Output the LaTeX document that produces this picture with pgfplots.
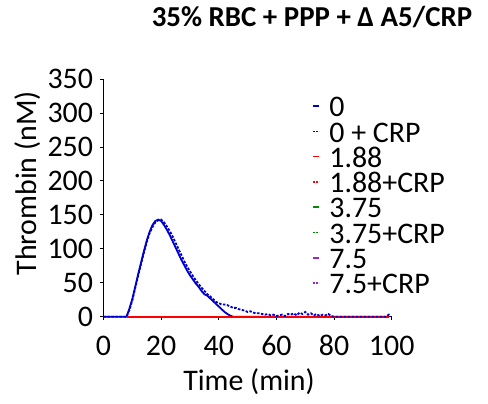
\documentclass[border=0pt]{standalone}
\usepackage{pgfplots}
\pgfplotsset{compat=1.18}
\usepackage{pgfplotstable}
\usepackage{fontspec}
\setmainfont{Carlito}
\definecolor{cblue}{RGB}{0,0,205}
\definecolor{cred}{RGB}{255,0,0}
\definecolor{cgreen}{RGB}{0,140,0}
\definecolor{cpurple}{RGB}{150,40,200}

\pgfplotstableread{
t y
0 0
2 0
4 0
6 0
8 0
9 12
10 26
11 44
12 62
13 79
14 96
15 112
16 125
17 135
18 141
19 143
20 141
21 135
22 128
23 120
24 111
25 102
26 93
27 84
28 76
29 68
30 61
31 55
32 49
33 44
34 38
35 33
36 31
37 27
38 23
39 19
40 15
41 11
42 7
43 4
44 1.5
45 0
50 0
60 0
70 0
80 0
90 0
99 0
}\zerosolid

\pgfplotstableread{
t y
0 0
2 0
4 0
6 0
8 0
9 10
10 24
11 42
12 60
13 77
14 94
15 110
16 123
17 132
18 139
19 142
20 143
21 139
22 133
23 126
24 118
25 109
26 100
27 91
28 82
29 74
30 67
31 60
32 54
33 48
34 43
35 38
36 33
37 30
38 26
39 22
40 20
41 18
42 18
43 17
44 15
45 13
46 13
47 11
48 10
49 9
50 7
51 8
52 6
53 5
54 5
55 4
56 3
57 4
58 2
59 3
60 1
61 2
62 3
63 1
64 4
65 3
66 5
67 2
68 6
69 4
70 7
71 3
72 5
73 2
74 4
75 1
76 3
77 2
78 4
79 1
80 0
85 0
90 0
95 0
98 0
99 3
99.5 0
}\zerocrp

\pgfplotstableread{
t y
8 0
20 0
40 0
60 0
80 0
99 0
}\flat

\begin{document}
\begin{tikzpicture}
\useasboundingbox (-103.5bp,-87.3bp) rectangle (384.5bp,316.7bp);
\begin{axis}[
  scale only axis,
  width=288.2bp, height=237.7bp,
  xmin=0, xmax=100, ymin=0, ymax=350,
  xtick={0,20,...,100}, ytick={0,50,...,350},
  axis lines=left,
  axis line style={-, line width=0.8bp, black},
  tick style={line width=0.8bp, black},
  tick align=outside,
  major tick length=3.5bp,
  clip=false,
  /pgf/number format/assume math mode=true,
  tick label style={font=\fontsize{30}{30}\selectfont},
  xticklabel style={anchor=base, inner sep=0pt, yshift=-35bp},
  yticklabel style={anchor=east, inner sep=0pt, xshift=-6.8bp},
  every axis x label/.style={at={(axis description cs:0.505,-0.3084)}, anchor=base, font=\fontsize{30}{30}\selectfont},
  every axis y label/.style={at={(axis description cs:-0.2318,0.561)}, anchor=base, rotate=90, font=\fontsize{30}{30}\selectfont},
  xlabel={Time (min)},
  ylabel={Thrombin (nM)},
  legend style={at={(axis description cs:0.7245,0.917)}, anchor=north west,
    draw=none, fill=none, inner sep=0pt, outer sep=0pt,
    font=\fontsize{30}{30}\selectfont,
    nodes={text height=18bp, text depth=7.3bp, inner sep=0pt},
    cells={anchor=base west},
    column sep=9.5bp, row sep=0pt},
  legend image code/.code={\draw[#1] (0bp,10.7bp) -- (6bp,10.7bp);},
]
% data, drawn in stacking order
\addplot[forget plot, cgreen, line width=1.8bp] table {\flat};
\addplot[forget plot, cgreen, line width=1.8bp, dash pattern=on 2.5bp off 1.5bp] table {\flat};
\addplot[forget plot, cpurple, line width=1.8bp] table {\flat};
\addplot[forget plot, cpurple, line width=1.8bp, dash pattern=on 2.5bp off 1.5bp] table {\flat};
\addplot[forget plot, cblue, line width=1.8bp] table {\zerosolid};
\addplot[forget plot, cred, line width=1.8bp] table {\flat};
\addplot[forget plot, cred, line width=1.8bp, dash pattern=on 2.5bp off 1.5bp] table {\flat};
\addplot[forget plot, cblue, line width=1.8bp, dash pattern=on 2.5bp off 1.5bp] table {\zerocrp};
% legend
\addlegendimage{cblue, line width=1.6bp}
\addlegendentry{0}
\addlegendimage{cblue, line width=1.6bp, dash pattern=on 1.5bp off 1.5bp}
\addlegendentry{0 + CRP}
\addlegendimage{cred, line width=1.6bp}
\addlegendentry{1.88}
\addlegendimage{cred, line width=1.6bp, dash pattern=on 1.5bp off 1.5bp}
\addlegendentry{1.88+CRP}
\addlegendimage{cgreen, line width=1.6bp}
\addlegendentry{3.75}
\addlegendimage{cgreen, line width=1.6bp, dash pattern=on 1.5bp off 1.5bp}
\addlegendentry{3.75+CRP}
\addlegendimage{cpurple, line width=1.6bp}
\addlegendentry{7.5}
\addlegendimage{cpurple, line width=1.6bp, dash pattern=on 1.5bp off 1.5bp}
\addlegendentry{7.5+CRP}
\end{axis}
\node[anchor=base, font=\fontsize{29}{29}\selectfont\bfseries] at (208.5bp,289.7bp) {35\% RBC + PPP + Δ A5/CRP};
\end{tikzpicture}
\end{document}
